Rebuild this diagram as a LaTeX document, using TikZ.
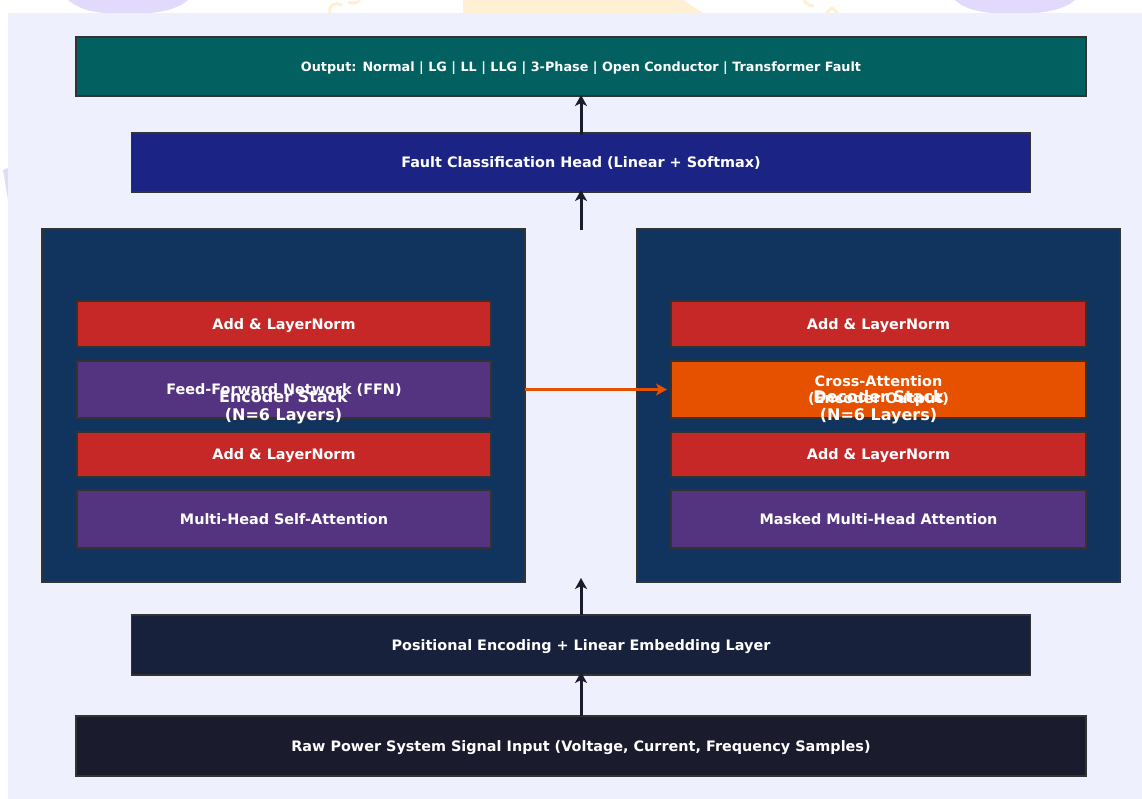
\documentclass[tikz,border=0pt]{standalone}
\usepackage{fontspec}
\setmainfont{DejaVu Sans}
\usetikzlibrary{arrows.meta}
\definecolor{panelbg}{RGB}{238,241,253}
\definecolor{tealbox}{RGB}{2,96,96}
\definecolor{headbox}{RGB}{27,36,132}
\definecolor{stackbox}{RGB}{17,52,95}
\definecolor{redbox}{RGB}{198,40,40}
\definecolor{purplebox}{RGB}{84,52,128}
\definecolor{orangebox}{RGB}{230,81,0}
\definecolor{posbox}{RGB}{24,33,60}
\definecolor{rawbox}{RGB}{27,27,46}
\definecolor{edgegray}{RGB}{51,51,51}
\definecolor{arrowcol}{RGB}{27,27,46}
\definecolor{wmlav}{RGB}{226,218,252}
\definecolor{wmyel}{RGB}{255,240,212}
\begin{document}
\begin{tikzpicture}[x=1pt,y=-1pt,
  blk/.style={draw=edgegray,line width=1.5pt,inner sep=0pt,outer sep=0pt,text=white,text depth=0pt,font=\bfseries\fontsize{14.4}{16.5}\selectfont,align=center},
  upar/.style={draw=arrowcol,line width=3pt,-{Stealth[length=11pt,width=12pt,inset=3pt]}},
  orar/.style={draw=orangebox,line width=3.2pt,-{Stealth[length=11pt,width=12pt,inset=3pt]}},
  stacklbl/.style={text=white,text depth=0pt,font=\bfseries\fontsize{16}{18.5}\selectfont,align=center,inner sep=0pt}]
\useasboundingbox (0,0) rectangle (1142,799);
\fill[white] (0,0) rectangle (1142,799);
% faint watermark fragments
\fill[wmlav] (68,0) .. controls (80,10) and (95,14) .. (128,14) .. controls (160,14) and (178,9) .. (188,0) -- cycle;
\fill[wmlav] (955,0) .. controls (965,10) and (985,14) .. (1015,14) .. controls (1045,14) and (1065,9) .. (1075,0) -- cycle;
\fill[wmyel] (463,0) rectangle (683,16);
\fill[wmyel] (683,0) -- (707,16) -- (683,16) -- cycle;
\draw[wmyel,line width=3pt] (330,13) .. controls (328,4) and (336,2) .. (342,5);
\draw[wmyel,line width=3pt] (348,2) .. controls (352,4) and (358,3) .. (360,0);
\draw[wmyel,line width=3pt] (804,0) .. controls (806,4) and (810,6) .. (814,6);
\draw[wmyel,line width=3pt] (826,13) -- (832,8) -- (838,13);
\fill[wmlav] (3,170) -- (8,168) -- (8,200) -- cycle;
\fill[panelbg] (8,13) rectangle (1142,799);
% top boxes
\node[blk,fill=tealbox,minimum width=1010pt,minimum height=59pt,font=\bfseries\fontsize{12.8}{15}\selectfont] (out) at (581,66.5) {Output: Normal | LG | LL | LLG | 3-Phase | Open Conductor | Transformer Fault};
\node[blk,fill=headbox,minimum width=899pt,minimum height=59pt] (head) at (581,162.5) {Fault Classification Head (Linear + Softmax)};
% stacks
\node[blk,fill=stackbox,minimum width=483pt,minimum height=353pt] (enc) at (283.5,405.5) {};
\node[blk,fill=stackbox,minimum width=483pt,minimum height=353pt] (dec) at (878.5,405.5) {};
% encoder layers
\node[blk,fill=redbox,minimum width=414pt,minimum height=46pt] (eadd1) at (284,324) {Add \& LayerNorm};
\node[blk,fill=purplebox,minimum width=414pt,minimum height=57pt] (effn) at (284,389.5) {Feed-Forward Network (FFN)};
\node[blk,fill=redbox,minimum width=414pt,minimum height=45pt] (eadd2) at (284,454.5) {Add \& LayerNorm};
\node[blk,fill=purplebox,minimum width=414pt,minimum height=58pt] (emha) at (284,519) {Multi-Head Self-Attention};
% decoder layers
\node[blk,fill=redbox,minimum width=415pt,minimum height=46pt] (dadd1) at (878.5,324) {Add \& LayerNorm};
\node[blk,fill=orangebox,minimum width=415pt,minimum height=57pt] (dcross) at (878.5,389.5) {Cross-Attention\\(Encoder Output)};
\node[blk,fill=redbox,minimum width=415pt,minimum height=45pt] (dadd2) at (878.5,454.5) {Add \& LayerNorm};
\node[blk,fill=purplebox,minimum width=415pt,minimum height=58pt] (dmha) at (878.5,519) {Masked Multi-Head Attention};
% stack labels
\node[stacklbl] (enclbl) at (enc.center) {Encoder Stack\\(N=6 Layers)};
\node[stacklbl] (declbl) at (dec.center) {Decoder Stack\\(N=6 Layers)};
% bottom boxes
\node[blk,fill=posbox,minimum width=899pt,minimum height=60pt] (pos) at (581,645) {Positional Encoding + Linear Embedding Layer};
\node[blk,fill=rawbox,minimum width=1010pt,minimum height=60pt] (raw) at (581,746) {Raw Power System Signal Input (Voltage, Current, Frequency Samples)};
% arrows
\draw[upar] (raw.north) -- ([yshift=3pt]pos.south);
\draw[upar] (pos.north) -- ([yshift=4pt]pos.north |- enc.south);
\draw[upar] ([yshift=-1pt]head.south |- enc.north) -- ([yshift=2pt]head.south);
\draw[upar] ([yshift=-2pt]head.north) -- ([yshift=1pt]out.south);
\draw[orar] (enc.east |- effn.east) -- ([xshift=-4pt]dcross.west);
\end{tikzpicture}
\end{document}
